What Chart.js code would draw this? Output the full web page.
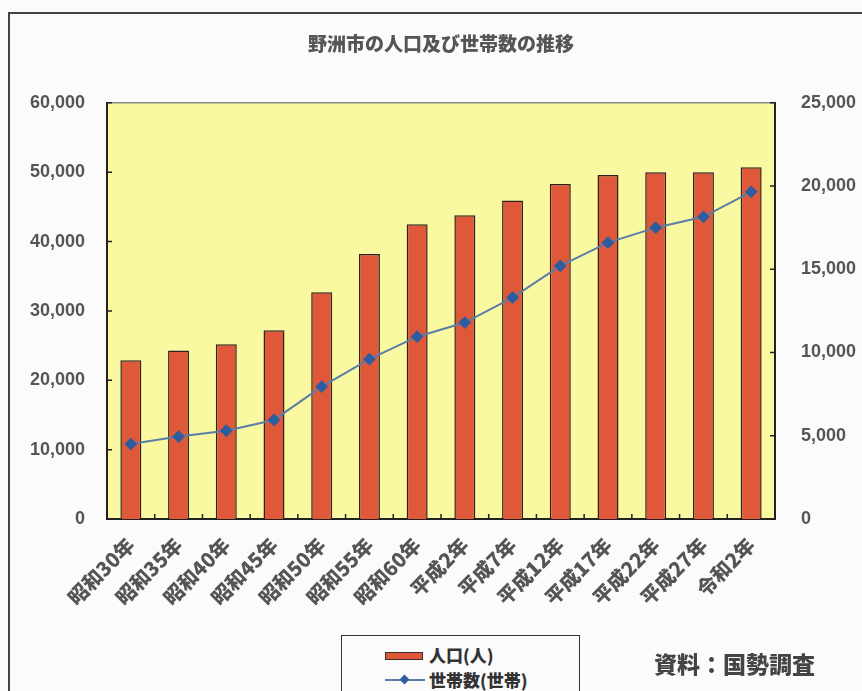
<!DOCTYPE html>
<html>
<head>
<meta charset="utf-8">
<script src="https://cdn.jsdelivr.net/npm/chart.js@4/dist/chart.umd.min.js"></script>
<style>
body { margin: 0; background: #fbfbfb; }
#wrap { position: relative; width: 862px; height: 691px; overflow: hidden; }
#frame { position: absolute; left: 8px; top: 12px; width: 900px; height: 700px; border-left: 2px solid #444; border-top: 2px solid #444; }
canvas { position: absolute; left: 0; top: 0; }
#legend { position: absolute; left: 341px; top: 635px; width: 237px; height: 80px; border: 1.5px solid #333; background: #fbfbfb;
  font: 900 17px "Noto Sans CJK JP", sans-serif; color: #333; }
.row { position: absolute; left: 43px; height: 22px; }
.sw { position: absolute; left: 0; top: 8px; width: 36px; height: 6px; background: #e0583a; border: 1px solid #3b2a22; }
.ln { position: absolute; left: 0; top: 10px; width: 40px; height: 2px; background: #5b7ea6; }
.dm { position: absolute; left: 16px; top: 7px; width: 7px; height: 7px; background: #2e5d9f; transform: rotate(45deg); }
.tx { position: absolute; left: 44px; top: 0; white-space: nowrap; line-height: 22px; }
#source { position: absolute; left: 654px; top: 646px; font: 900 23px "Noto Sans CJK JP", sans-serif; color: #444; white-space: nowrap; }
</style>
</head>
<body>
<div id="wrap">
  <canvas id="chart" width="862" height="691"></canvas>
  <div id="frame"></div>
  <div id="legend">
    <div class="row" style="top:8px"><div class="sw"></div><div class="tx">人口(人)</div></div>
    <div class="row" style="top:33px"><div class="ln"></div><div class="dm"></div><div class="tx">世帯数(世帯)</div></div>
  </div>
  <div id="source">資料：国勢調査</div>
</div>
<script>
const years = ['昭和30年', '昭和35年', '昭和40年', '昭和45年', '昭和50年', '昭和55年', '昭和60年',
               '平成2年', '平成7年', '平成12年', '平成17年', '平成22年', '平成27年', '令和2年'];
const population = [22900, 24300, 25200, 27200, 32700, 38200, 42500, 43800, 45900, 48300, 49600, 50000, 50000, 50700];
const households = [4500, 4950, 5300, 5950, 7950, 9600, 10950, 11800, 13300, 15200, 16600, 17500, 18150, 19650];
const popAxis = { min: 0, max: 60000, step: 10000 };
const hhAxis = { min: 0, max: 25000, step: 5000 };

const tickFont = { family: '"Liberation Sans", "Noto Sans CJK JP", sans-serif', size: 18, weight: 'bold' };

// yellow plot area, top edge and the little inside tick marks
const plotDeco = {
  id: 'plotDeco',
  beforeDraw(chart) {
    const { ctx, chartArea: a } = chart;
    ctx.save();
    ctx.fillStyle = '#faf8a0';
    ctx.fillRect(a.left, a.top, a.right - a.left, a.bottom - a.top);
    ctx.restore();
  },
  afterDraw(chart) {
    const { ctx, chartArea: a, scales } = chart;
    ctx.save();
    ctx.strokeStyle = '#888';
    ctx.lineWidth = 1.5;
    ctx.beginPath(); ctx.moveTo(a.left, a.top); ctx.lineTo(a.right, a.top); ctx.stroke();
    ctx.strokeStyle = '#222';
    ctx.lineWidth = 1.5;
    ctx.beginPath();
    scales.y.ticks.forEach(t => {
      const y = scales.y.getPixelForValue(t.value);
      ctx.moveTo(a.left, y); ctx.lineTo(a.left + 5, y);
    });
    scales.y2.ticks.forEach(t => {
      const y = scales.y2.getPixelForValue(t.value);
      ctx.moveTo(a.right - 5, y); ctx.lineTo(a.right, y);
    });
    const w = (a.right - a.left) / years.length;
    for (let i = 0; i <= years.length; i++) {
      const x = a.left + i * w;
      ctx.moveTo(x, a.bottom); ctx.lineTo(x, a.bottom - 5);
    }
    ctx.stroke();
    ctx.restore();
  }
};

new Chart(document.getElementById('chart'), {
  type: 'bar',
  data: {
    labels: years,
    datasets: [{
      type: 'line',
      label: '世帯数(世帯)',
      data: households,
      yAxisID: 'y2',
      borderColor: '#5b7ea6',
      borderWidth: 2,
      pointStyle: 'rectRot',
      pointRadius: 5,
      pointBackgroundColor: '#2e5d9f',
      pointBorderColor: '#2e5d9f',
      tension: 0,
      order: 0
    }, {
      type: 'bar',
      label: '人口(人)',
      data: population,
      yAxisID: 'y',
      backgroundColor: '#e0583a',
      borderColor: '#2e221c',
      borderWidth: 1.5,
      barPercentage: 0.44,
      categoryPercentage: 1,
      order: 1
    }]
  },
  plugins: [plotDeco],
  options: {
    responsive: false,
    animation: false,
    layout: { padding: { top: 0, left: 0, right: 0, bottom: 72 } },
    plugins: {
      legend: { display: false },
      tooltip: { enabled: false },
      title: {
        display: true,
        text: '野洲市の人口及び世帯数の推移',
        fullSize: false,
        color: '#555',
        font: { family: '"Noto Sans CJK JP", sans-serif', size: 19, weight: 900 },
        padding: { top: 32, bottom: 48 }
      }
    },
    scales: {
      x: {
        grid: { display: false },
        border: { color: '#222', width: 2 },
        ticks: {
          color: '#555',
          font: { family: '"Noto Sans CJK JP", sans-serif', size: 20, weight: 900 },
          minRotation: 45, maxRotation: 45, padding: 6
        },
        afterFit(s) { s.height = 100; }
      },
      y: {
        position: 'left',
        min: popAxis.min, max: popAxis.max,
        grid: { display: false },
        border: { color: '#222', width: 2 },
        ticks: {
          stepSize: popAxis.step, color: '#555', font: tickFont, padding: 14,
          callback: v => v.toLocaleString('en-US')
        },
        afterFit(s) { s.width = 107; }
      },
      y2: {
        position: 'right',
        min: hhAxis.min, max: hhAxis.max,
        grid: { display: false },
        border: { color: '#222', width: 2 },
        ticks: {
          stepSize: hhAxis.step, color: '#555', font: tickFont, padding: 18,
          callback: v => v.toLocaleString('en-US')
        },
        afterFit(s) { s.width = 87; }
      }
    }
  }
});
</script>
</body>
</html>
